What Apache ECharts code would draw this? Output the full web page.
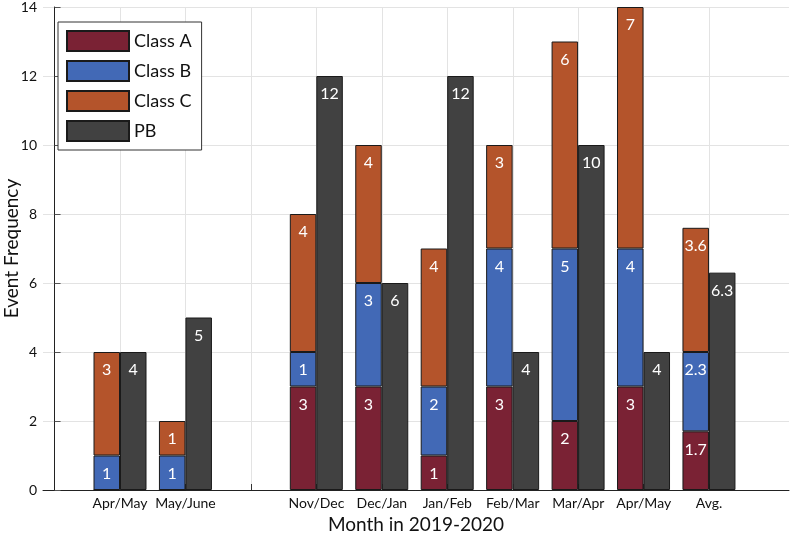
<!DOCTYPE html>
<html>
<head>
<meta charset="utf-8">
<script src="https://cdn.jsdelivr.net/npm/echarts@6/dist/echarts.min.js"></script>
<style>html,body{margin:0;padding:0;background:#fff;}#c{width:790px;height:535px;}</style>
</head>
<body>
<div id="c"></div>
<script>
const categories = ['Apr/May', 'May/June', '', 'Nov/Dec', 'Dec/Jan', 'Jan/Feb', 'Feb/Mar', 'Mar/Apr', 'Apr/May', 'Avg.'];
const classA = [0, 0, null, 3, 3, 1, 3, 2, 3, 1.7];
const classB = [1, 1, null, 1, 3, 2, 4, 5, 4, 2.3];
const classC = [3, 1, null, 4, 4, 4, 3, 6, 7, 3.6];
const pb     = [4, 5, null, 12, 6, 12, 4, 10, 4, 6.3];
const yTicks = [0, 2, 4, 6, 8, 10, 12, 14];

const FONT = 'Lato, "Open Sans", sans-serif';
const positions = categories.map((c, i) => i + 1);

function bar(name, arr, color, stack) {
  return {
    name: name,
    type: 'bar',
    xAxisIndex: 1,
    yAxisIndex: 1,
    stack: stack,
    data: arr,
    barWidth: 26.5,
    barGap: '0%',
    itemStyle: { color: color, borderColor: '#1a1a1a', borderWidth: 1 },
    label: {
      show: true,
      position: 'insideTop',
      distance: 10,
      color: '#ffffff',
      fontSize: 16,
      fontFamily: FONT,
      formatter: p => (p.value ? String(p.value) : '')
    },
    emphasis: { disabled: true }
  };
}

const chart = echarts.init(document.getElementById('c'), null, { renderer: 'canvas' });
chart.setOption({
  animation: false,
  backgroundColor: '#ffffff',
  textStyle: { fontFamily: FONT },
  grid: [
    { left: 43, right: 1, top: 7, bottom: 45, containLabel: false, outerBoundsMode: 'none' },
    { left: 87.28, right: 48.32, top: 7, bottom: 45, containLabel: false, outerBoundsMode: 'none' }
  ],
  legend: {
    orient: 'vertical',
    left: 58,
    top: 22,
    itemWidth: 62,
    itemHeight: 20,
    itemGap: 8,
    padding: [8, 10, 8, 8],
    backgroundColor: '#ffffff',
    borderColor: '#333333',
    borderWidth: 1,
    borderRadius: 0,
    icon: 'rect',
    textStyle: { fontSize: 18, color: '#111111', fontFamily: FONT },
    data: ['Class A', 'Class B', 'Class C', 'PB']
  },
  xAxis: [
    {
      type: 'value',
      gridIndex: 0,
      min: -0.177,
      max: 11.22,
      name: 'Month in 2019-2020',
      nameLocation: 'middle',
      nameGap: 25,
      nameMoveOverlap: false,
      nameTextStyle: { fontSize: 19, color: '#111111', fontFamily: FONT },
      axisLine: { show: true, lineStyle: { color: '#222222', width: 1 } },
      axisTick: { show: true, inside: true, length: 6, customValues: positions, lineStyle: { color: '#333333' } },
      axisLabel: {
        customValues: positions,
        formatter: v => categories[Math.round(v) - 1] || '',
        fontSize: 14,
        color: '#111111',
        fontFamily: FONT,
        margin: 6
      },
      splitLine: { show: true, lineStyle: { color: '#e3e3e3', width: 1 } }
    },
    {
      type: 'category',
      gridIndex: 1,
      data: categories,
      boundaryGap: true,
      show: false
    }
  ],
  yAxis: [
    {
      type: 'value',
      gridIndex: 0,
      min: 0,
      max: 14,
      interval: 2,
      name: 'Event Frequency',
      nameLocation: 'middle',
      nameGap: 22,
      nameMoveOverlap: false,
      nameTextStyle: { fontSize: 19, color: '#111111', fontFamily: FONT },
      axisLine: { show: true, lineStyle: { color: '#222222', width: 1 } },
      axisTick: { show: true, inside: true, length: 6, lineStyle: { color: '#555555' } },
      axisLabel: { fontSize: 14, color: '#111111', fontFamily: FONT, margin: 6 },
      splitLine: { show: true, lineStyle: { color: '#e3e3e3', width: 1 } }
    },
    {
      type: 'value',
      gridIndex: 1,
      min: 0,
      max: 14,
      interval: 2,
      show: false,
      splitLine: { show: false }
    }
  ],
  series: [
    bar('Class A', classA, '#7a2234', 'cls'),
    bar('Class B', classB, '#4269b6', 'cls'),
    bar('Class C', classC, '#b4542b', 'cls'),
    bar('PB', pb, '#414141', 'pb')
  ]
});
</script>
</body>
</html>
